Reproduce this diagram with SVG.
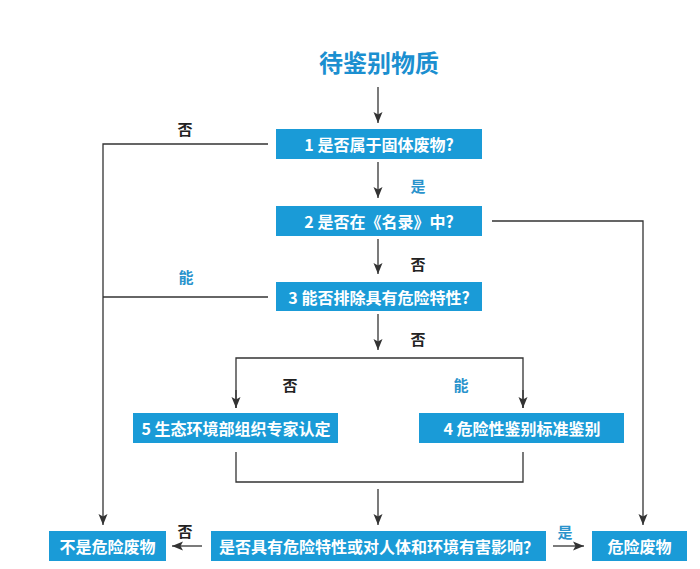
<svg xmlns="http://www.w3.org/2000/svg" width="700" height="569" viewBox="0 0 700 569">
<style>
.box{fill:#1a9bd7;}
.bt{fill:#ffffff;font-family:"Noto Sans CJK SC","Noto Sans",sans-serif;font-size:16px;font-weight:bold;text-anchor:middle;dominant-baseline:central;}
.lbl{font-family:"Noto Sans CJK SC","Noto Sans",sans-serif;font-size:15px;font-weight:bold;text-anchor:middle;dominant-baseline:central;}
.no{fill:#222222;}
.yes{fill:#2a93cc;}
.ln{fill:none;stroke:#333333;stroke-width:1.3;}
.title{fill:#1b8fd0;font-family:"Noto Sans CJK SC","Noto Sans",sans-serif;font-size:24px;font-weight:bold;text-anchor:middle;dominant-baseline:central;}
</style>
<defs>
<marker id="arr" markerUnits="userSpaceOnUse" markerWidth="12" markerHeight="10" refX="11" refY="5" orient="auto">
<path d="M0,0.5 L11,5 L0,9.5 L2.5,5 Z" fill="#333333"/>
</marker>
</defs>
<rect width="700" height="569" fill="#ffffff"/>
<g id="title"><text class="title" x="379" y="61">待鉴别物质</text></g>
<g id="n1"><rect class="box" x="276" y="129" width="206" height="30"/><text class="bt" x="379" y="144">1 是否属于固体废物?</text></g>
<g id="n2"><rect class="box" x="276" y="206" width="206" height="30"/><text class="bt" x="379" y="221">2 是否在《名录》中?</text></g>
<g id="n3"><rect class="box" x="276" y="282" width="206" height="29"/><text class="bt" x="379" y="296.5">3 能否排除具有危险特性?</text></g>
<g id="n5"><rect class="box" x="133" y="413" width="205" height="30"/><text class="bt" x="236" y="428">5 生态环境部组织专家认定</text></g>
<g id="n4"><rect class="box" x="419" y="413" width="205" height="30"/><text class="bt" x="522" y="428">4 危险性鉴别标准鉴别</text></g>
<g id="n6"><rect class="box" x="211" y="531" width="335" height="30"/><text class="bt" x="379" y="546">是否具有危险特性或对人体和环境有害影响？</text></g>
<g id="n7"><rect class="box" x="49" y="531" width="117" height="30"/><text class="bt" x="107.5" y="546">不是危险废物</text></g>
<g id="n8"><rect class="box" x="592" y="531" width="95" height="30"/><text class="bt" x="639.5" y="546">危险废物</text></g>
<g id="connectors">
<line class="ln" x1="378" y1="87" x2="378" y2="123" marker-end="url(#arr)"/>
<line class="ln" x1="378" y1="162" x2="378" y2="198" marker-end="url(#arr)"/>
<line class="ln" x1="378" y1="239" x2="378" y2="274" marker-end="url(#arr)"/>
<line class="ln" x1="378" y1="314" x2="378" y2="350" marker-end="url(#arr)"/>
<polyline class="ln" points="268,144 103,144 103,525" marker-end="url(#arr)"/>
<line class="ln" x1="268" y1="297" x2="103" y2="297"/>
<polyline class="ln" points="492,221 643,221 643,525" marker-end="url(#arr)"/>
<polyline class="ln" points="236,408 236,358 523,358 523,408"/>
<line class="ln" x1="236" y1="390" x2="236" y2="408" marker-end="url(#arr)"/>
<line class="ln" x1="523" y1="390" x2="523" y2="408" marker-end="url(#arr)"/>
<polyline class="ln" points="236,452 236,482 523,482 523,452"/>
<line class="ln" x1="378" y1="489" x2="378" y2="525" marker-end="url(#arr)"/>
<line class="ln" x1="202" y1="546" x2="172" y2="546" marker-end="url(#arr)"/>
<line class="ln" x1="553" y1="546" x2="584" y2="546" marker-end="url(#arr)"/>
</g>
<g id="labels">
<text class="lbl no" x="185" y="128">否</text>
<text class="lbl yes" x="418" y="185">是</text>
<text class="lbl no" x="418" y="263">否</text>
<text class="lbl yes" x="186" y="276">能</text>
<text class="lbl no" x="418" y="338">否</text>
<text class="lbl no" x="290" y="384">否</text>
<text class="lbl yes" x="461" y="384">能</text>
<text class="lbl no" x="185" y="530">否</text>
<text class="lbl yes" x="565" y="531">是</text>
</g>
</svg>
